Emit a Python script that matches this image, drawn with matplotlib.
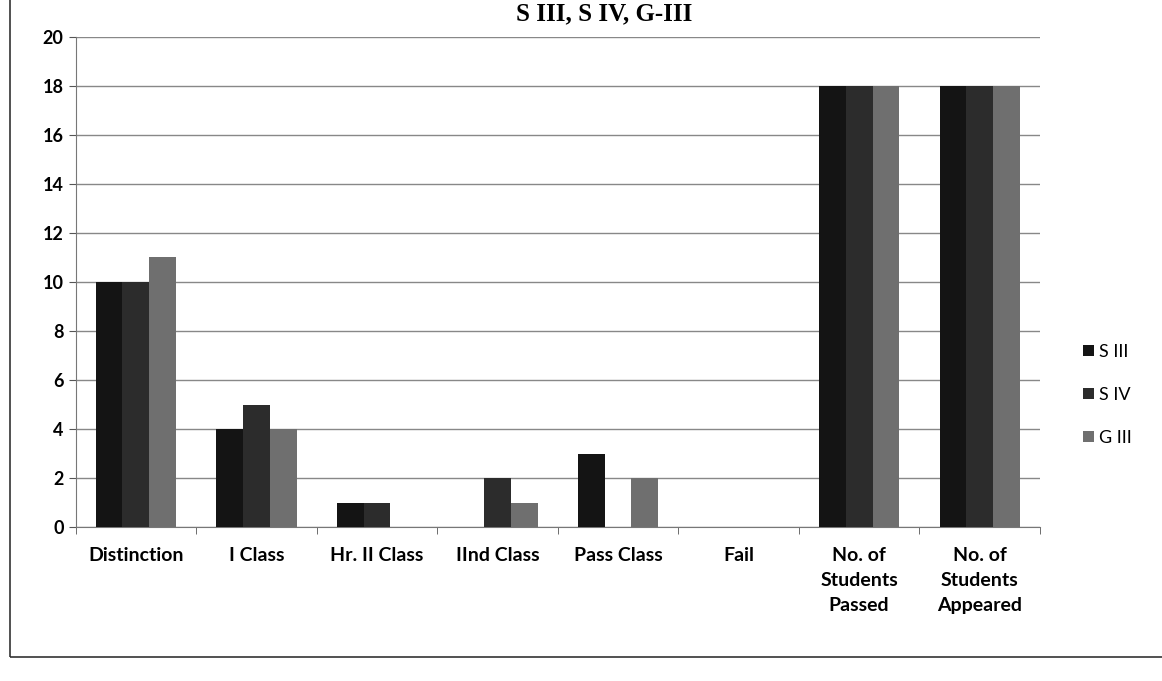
import matplotlib.pyplot as plt
import numpy as np
from matplotlib.patches import Rectangle

plt.rcParams['font.family'] = ['Lato', 'DejaVu Sans']

categories = ["Distinction", "I Class", "Hr. II Class", "IInd Class", "Pass Class",
              "Fail", "No. of\nStudents\nPassed", "No. of\nStudents\nAppeared"]
s3 = [10, 4, 1, 0, 3, 0, 18, 18]
s4 = [10, 5, 1, 2, 0, 0, 18, 18]
g3 = [11, 4, 0, 1, 2, 0, 18, 18]
series_names = ["S III", "S IV", "G III"]
colors = ["#141414", "#2c2c2c", "#6f6f6f"]

x = np.arange(len(categories))
width = 0.222

fig = plt.figure(figsize=(11.62, 6.81), dpi=100)
ax = fig.add_axes([0.065, 0.226, 0.83, 0.72])

for i, (vals, name, c) in enumerate(zip([s3, s4, g3], series_names, colors)):
    ax.bar(x + (i - 1) * width, vals, width, color=c, label=name, zorder=3)

ax.set_ylim(0, 20)
ax.set_yticks(range(0, 21, 2))
ax.set_xlim(-0.5, len(categories) - 0.5)
ax.set_xticks(x)
ax.set_xticklabels(categories, fontsize=14, fontweight='bold', va='top',
                   linespacing=1.6)
ax.tick_params(axis='x', length=0, pad=14)
ax.set_xticks(np.arange(-0.5, len(categories), 1), minor=True)
ax.tick_params(axis='x', which='minor', length=5, direction='out', color='#555555')
ax.tick_params(axis='y', labelsize=13, length=5, color='#555555')
for lab in ax.get_yticklabels():
    lab.set_fontweight('bold')

ax.grid(axis='y', color='#888888', linewidth=1, zorder=0)
for s in ['top', 'right']:
    ax.spines[s].set_visible(False)
ax.spines['left'].set_color('#777777')
ax.spines['bottom'].set_color('#777777')

fig.legend(loc='center left', bbox_to_anchor=(0.918, 0.42), frameon=False,
           fontsize=13, handlelength=0.6, handleheight=0.6, labelspacing=1.5,
           handletextpad=0.3)

fig.text(0.52, 0.997, "S III, S IV, G-III", ha='center', va='top',
         fontsize=18, fontweight='bold', family='Liberation Serif')

# outer chart border
fig.patches.append(Rectangle((0.009, 0.035), 1.2, 1.2, transform=fig.transFigure,
                             fill=False, edgecolor='#333333', linewidth=1.2))

fig.savefig("out.png", dpi=100)
